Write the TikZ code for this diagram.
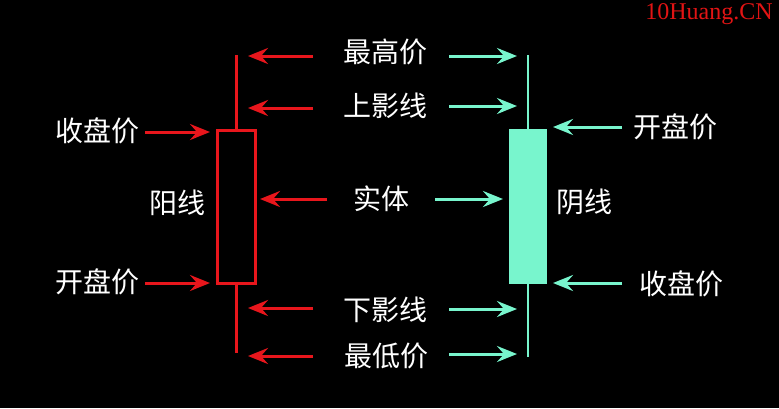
\documentclass[tikz,border=0pt]{standalone}
\usepackage{fontspec}
\newfontfamily\cjk{Noto Sans CJK SC}
\newfontfamily\wmfont{Liberation Serif}
\usetikzlibrary{arrows.meta}
\definecolor{kred}{RGB}{232,22,28}
\definecolor{kgreen}{RGB}{120,245,205}
\definecolor{wmred}{RGB}{225,20,20}
\tikzset{
  lbl/.style={text=white, font=\cjk\fontsize{28}{28}\selectfont, inner sep=0pt},
  redarr/.style={draw=kred, line width=3pt, -{Stealth[length=20pt,width=16pt,inset=7pt]}},
  grnarr/.style={draw=kgreen, line width=3pt, -{Stealth[length=20pt,width=16pt,inset=7pt]}},
  redline/.style={draw=kred, line width=3pt},
  grnline/.style={draw=kgreen, line width=2pt},
}
\begin{document}
\begin{tikzpicture}[x=1pt,y=-1pt]
\useasboundingbox[fill=black] (0,0) rectangle (779,408);
% watermark
\node[text=wmred, font=\wmfont\fontsize{24}{24}\selectfont, inner sep=0pt] (wm) at (709,14) {10Huang.CN};
% red (yang) candle
\node[draw=kred, line width=3pt, minimum width=38pt, minimum height=153pt, inner sep=0pt] (rbox) at (236,206.5) {};
\coordinate (rtop) at (236,55);
\coordinate (rbot) at (236,353);
\draw[redline] (rtop) -- (rbox.north);
\draw[redline] (rbox.south) -- (rbot);
% green (yin) candle
\node[fill=kgreen, minimum width=38pt, minimum height=155pt, inner sep=0pt] (gbox) at (528,206.5) {};
\coordinate (gtop) at (528,55);
\coordinate (gbot) at (528,357);
\draw[grnline] (gtop) -- (gbox.north);
\draw[grnline] (gbox.south) -- (gbot);
% labels
\node[lbl] (zg) at (385,52) {最高价};
\node[lbl] (syx) at (385,106) {上影线};
\node[lbl] (st) at (381,199) {实体};
\node[lbl] (xyx) at (385,310) {下影线};
\node[lbl] (zd) at (386,356) {最低价};
\node[lbl] (lsp) at (97,131) {收盘价};
\node[lbl] (lkp) at (97,282) {开盘价};
\node[lbl] (yang) at (177,203) {阳线};
\node[lbl] (yin) at (584,202) {阴线};
\node[lbl] (rkp) at (675,127) {开盘价};
\node[lbl] (rsp) at (681,284) {收盘价};
% arrow end points
\coordinate (r1s) at (313,56);  \coordinate (r1t) at (248,56);
\coordinate (r2s) at (313,108); \coordinate (r2t) at (248,108);
\coordinate (r3s) at (327,199); \coordinate (r3t) at (260,199);
\coordinate (r4s) at (313,308); \coordinate (r4t) at (248,308);
\coordinate (r5s) at (313,356); \coordinate (r5t) at (248,356);
\coordinate (g1s) at (449,56);  \coordinate (g1t) at (517,56);
\coordinate (g2s) at (449,106); \coordinate (g2t) at (517,106);
\coordinate (g3s) at (435,199); \coordinate (g3t) at (503,199);
\coordinate (g4s) at (449,309); \coordinate (g4t) at (517,309);
\coordinate (g5s) at (449,354); \coordinate (g5t) at (517,354);
\coordinate (l1s) at (145,132); \coordinate (l1t) at (210,132);
\coordinate (l2s) at (145,283); \coordinate (l2t) at (210,283);
\coordinate (q1s) at (622,127); \coordinate (q1t) at (553,127);
\coordinate (q2s) at (622,283); \coordinate (q2t) at (553,283);
% arrows
\foreach \a in {r1,r2,r3,r4,r5,l1,l2} \draw[redarr] (\a s) -- (\a t);
\foreach \a in {g1,g2,g3,g4,g5,q1,q2} \draw[grnarr] (\a s) -- (\a t);
\end{tikzpicture}
\end{document}
